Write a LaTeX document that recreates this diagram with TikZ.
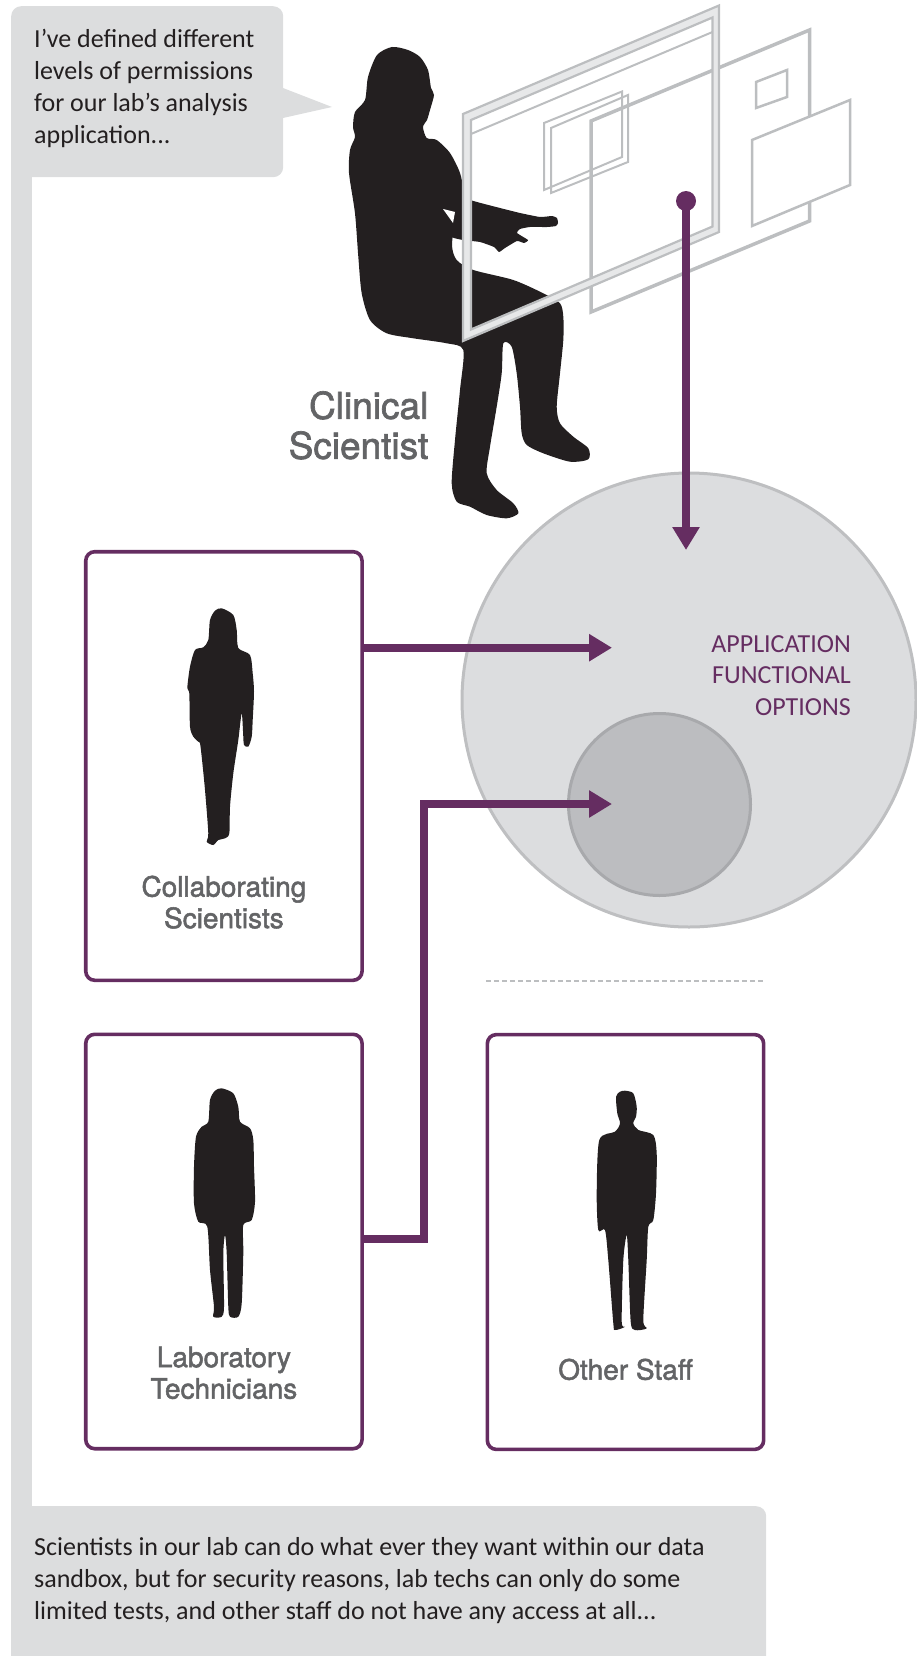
\documentclass[tikz,border=0pt]{standalone}
\usepackage{fontspec}
\setmainfont{Carlito}
\newfontfamily\heros[FakeBold=1.8]{TeX Gyre Heros}
\usetikzlibrary{arrows.meta}

\definecolor{plum}{RGB}{101,45,97}
\definecolor{bubblegray}{RGB}{220,221,222}
\definecolor{discfill}{RGB}{220,221,223}
\definecolor{discline}{RGB}{190,191,193}
\definecolor{corefill}{RGB}{188,189,192}
\definecolor{coreline}{RGB}{168,169,172}
\definecolor{wire}{RGB}{188,190,192}
\definecolor{wirefill}{RGB}{231,232,233}
\definecolor{ink}{RGB}{35,31,32}
\definecolor{labelgray}{RGB}{99,100,102}

\tikzset{
  bubble/.style={fill=bubblegray, rounded corners=10pt},
  speech/.style={font=\fontsize{26}{32}\selectfont, text=ink, align=left, inner sep=0pt},
  rolebox/.style={draw=plum, line width=3.6pt, rounded corners=9pt, fill=white,
    minimum width=276.3pt, inner sep=0pt},
  rolelabel/.style={font=\heros\fontsize{28}{31.5}\selectfont, text=labelgray, align=center, inner sep=0pt},
  flow/.style={draw=plum, line width=8pt, -{Triangle[length=23pt,width=26pt]}},
  silhouette/.style={fill=ink},
  wireframe/.style={draw=wire, line join=miter},
}

\begin{document}
\begin{tikzpicture}[x=1pt,y=-1pt]
\useasboundingbox (0,0) rectangle (916,1656);

% speech bubbles and the bar joining them
\node[bubble, anchor=north west, minimum width=272pt, minimum height=171pt, inner sep=0pt] (intro) at (11,6) {};
\fill[bubblegray] (283,88) -- (332,107) -- (283,118) -- cycle;
\fill[bubblegray] (11,150) rectangle (32,1530);
\node[bubble, anchor=north west, minimum width=755pt, minimum height=170pt, inner sep=0pt] (summary) at (11,1506) {};

\node[speech, anchor=north west] (introtext) at (34,28.5)
  {I’ve defined different\\levels of permissions\\for our lab’s analysis\\application...};
\node[speech, anchor=north west] (summarytext) at (34,1537)
  {Scientists in our lab can do what ever they want within our data\\sandbox, but for security reasons, lab techs can only do some\\limited tests, and other staff do not have any access at all...};

% application options
\node[circle, fill=discfill, draw=discline, line width=3pt, minimum size=454pt, inner sep=0pt] (app) at (689,700) {};
\node[circle, fill=corefill, draw=coreline, line width=3pt, minimum size=182pt, inner sep=0pt] (core) at (659.5,804.5) {};
\node[font=\fontsize{26}{31.5}\selectfont, text=plum, align=right, inner sep=0pt, anchor=north east] (apptext) at (851,635)
  {APPLICATION\\FUNCTIONAL\\OPTIONS};

% seated clinical scientist: head, torso and legs
\fill[silhouette] plot[smooth cycle, tension=0.45] coordinates {
  (392,47) (408,50) (420,57) (428,70) (431,88) (434,95) (430,110) (427,120)
  (423,127) (426.7,138) (436.7,140) (450,153) (460,173) (463,192) (456,215)
  (452,245) (456.7,260) (473.3,270) (513.3,280)
  (543.3,293.3) (560,303.3) (563.3,316.7) (563.3,340) (560,373.3) (556.7,406.7)
  (560,423.3) (573.3,436.7) (588.3,448.3) (588.3,459.3) (570,461.7) (543.3,453.3)
  (526.7,445) (521.7,433.3) (520,406.7) (516.7,373.3) (511.7,346.7) (503.3,343.3)
  (501.7,373.3) (496.7,406.7) (490,446.7) (486.7,473.3) (496.7,490) (513.3,503.3)
  (518.3,513.3) (506.7,518.3) (486.7,515) (470,506.7) (456.7,501.7) (451.7,483.3)
  (455,440) (460,390) (463.3,350) (446.7,343.3) (413.3,338.3) (386.7,333.3)
  (370,320) (361.7,293.3) (358.3,256.7) (355,213.3) (349,173) (350,150)
  (355,137) (353,127) (355,112) (365,100) (368,77) (377,55)};
% her arms reaching towards the screen
\fill[silhouette] plot[smooth cycle, tension=0.3] coordinates {
  (447,178) (463,197) (477,202) (500,208) (520,213) (540,217) (552,216)
  (557,218) (558,223) (556,226) (547,227) (530,227) (520,229) (517,233)
  (528,240) (524,243) (517,241) (505,248) (499,252) (494,247) (480,242)
  (463,240) (450,236) (446,215)};
\fill[white] (443,209) -- (455,212) -- (453,223) -- cycle;
\node[font=\heros\fontsize{37}{40}\selectfont, text=labelgray, align=right, inner sep=0pt, anchor=north east] (clinical) at (428.5,391)
  {Clinical\\Scientist};

% floating screens
\draw[wireframe, line width=3.5pt] (591,121) -- (809.5,30) -- (809.5,221) -- (591,312) -- cycle;
\draw[wireframe, line width=2.5pt] (756,82) -- (787,70) -- (787,97) -- (756,108) -- cycle;
\filldraw[wireframe, fill=white, line width=2.5pt] (752,140) -- (850,100) -- (850,185) -- (752,226) -- cycle;
\fill[wirefill, even odd rule] (463,114) -- (719,5.5) -- (719,232) -- (463,341) -- cycle
  (471,120) -- (712.5,17.5) -- (712.5,226.5) -- (471,329.5) -- cycle;
\draw[wireframe, line width=2.2pt] (463,114) -- (719,5.5) -- (719,232) -- (463,341) -- cycle;
\draw[wireframe, line width=2.2pt] (471,120) -- (712.5,17.5) -- (712.5,226.5) -- (471,329.5) -- cycle;
\draw[wireframe, line width=2pt] (471,134) -- (712.5,32);
\draw[wireframe, line width=2pt] (544,123) -- (622,91.5) -- (622,157) -- (544,190) -- cycle;
\draw[wireframe, line width=2pt] (551,128) -- (628,95) -- (628,162) -- (551,193) -- cycle;

% user groups
\node[rolebox, minimum height=428.6pt] (collab) at (223.9,766) {};
\node[rolebox, minimum height=414.4pt] (labtech) at (223.9,1241.5) {};
\node[rolebox, minimum height=414.8pt] (staff) at (625.5,1242) {};

\fill[silhouette] plot[smooth cycle, tension=0.45] coordinates {
  (221.7,608.3) (233.3,615) (236.7,630) (238.3,648) (250,655) (252.7,673.3)
  (254,691.7) (252.7,720) (251.7,736.7) (248.3,746.7) (244,745) (243.3,736.7)
  (241.7,713.3) (238.3,740) (233.3,773.3) (230,806.7) (229.3,833.3) (225,838.3)
  (218.3,840) (213.3,845) (206.7,841.7) (208.3,833.3) (205,790) (201.7,756.7)
  (200,743.3) (198.3,741.7) (193.3,736.7) (190,726.7) (189.3,693.3) (187.3,688)
  (190,666.7) (195,650) (203.3,647.3) (208.3,640) (210,620) (215,610.7)};
\node[rolelabel, anchor=north] (collablabel) at (223.9,875.5) {Collaborating\\Scientists};

\fill[silhouette] plot[smooth cycle, tension=0.45] coordinates {
  (221.7,1088.3) (233.3,1093.3) (238.3,1106.7) (240,1121.7) (250,1128.3) (253.3,1140)
  (254,1166.7) (255,1201.7) (251.7,1220) (243.3,1225) (243.3,1253.3) (241.7,1303.3)
  (238.3,1316.7) (230,1316.7) (228.3,1306.7) (226.7,1253.3) (225,1235) (223.3,1253.3)
  (224,1306.7) (221.7,1316.7) (213.3,1316.7) (214,1306.7) (210,1270) (207.3,1226.7)
  (198.3,1221.7) (194,1203.3) (194,1166.7) (196,1136.7) (201.7,1126.7) (208.3,1121.7)
  (210,1100) (215,1090.7)};
\node[rolelabel, anchor=north] (lablabel) at (223.9,1346.5) {Laboratory\\Technicians};

\fill[silhouette] plot[smooth cycle, tension=0.45] coordinates {
  (625,1090.7) (633.3,1093.3) (636.7,1106.7) (636,1116.7) (633.3,1123.3) (638.3,1130)
  (653.3,1135) (656.7,1153.3) (656,1193.3) (653.3,1220) (648.3,1226.7) (646.7,1260)
  (643.3,1320) (646.7,1328.3) (635,1330) (630.7,1321.7) (628.3,1260) (626.7,1235)
  (623.3,1260) (621.7,1321.7) (625,1326.7) (615,1330) (613.3,1323.3) (608.3,1260)
  (605,1230) (598.3,1230) (596.7,1193.3) (599.3,1140) (615,1131.7) (620,1123.3)
  (617.3,1113.3) (616,1096.7) (620,1091.7)};
\node[rolelabel, anchor=north] (stafflabel) at (625.5,1358.5) {Other Staff};

% divider between groups with and without access
\coordinate (divL) at (486,981);
\coordinate (divR) at (764,981);
\draw[wire, line width=1.6pt, dash pattern=on 5pt off 3pt] (divL) -- (divR);

% access connectors
\node[circle, fill=plum, minimum size=20pt, inner sep=0pt] (touch) at (686,201) {};
\coordinate (tipTop) at (686,550);
\coordinate (tipCollab) at (612,647.7);
\coordinate (tipLab) at (612,804);
\coordinate (bendLow) at (424.2,1238.8);
\draw[flow] (touch.center) -- (tipTop);
\draw[flow] (collab.east |- tipCollab) -- (tipCollab);
\draw[flow, line join=miter] (labtech.east |- bendLow) -- (bendLow) |- (tipLab);
\end{tikzpicture}
\end{document}
